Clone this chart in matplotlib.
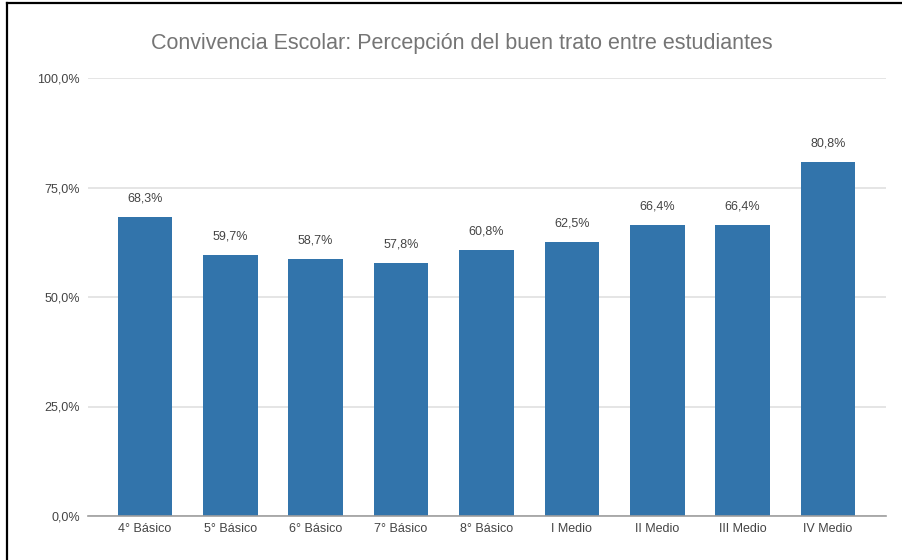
import matplotlib
matplotlib.use('Agg')
from matplotlib import pyplot as plt
from matplotlib.ticker import FuncFormatter
import numpy as np

# Daten
cursos = ['4° Básico', '5° Básico', '6° Básico', '7° Básico', '8° Básico',
          'I Medio', 'II Medio', 'III Medio', 'IV Medio']
buen_trato = [68.3, 59.7, 58.7, 57.8, 60.8, 62.5, 66.4, 66.4, 80.8]
y_ticks = [0, 25, 50, 75, 100]

plt.rcParams['font.family'] = ['Liberation Sans', 'DejaVu Sans']

fig = plt.figure(figsize=(9.02, 5.6), dpi=100)
ax = fig.add_axes([88 / 902, 1 - 516 / 560, (886 - 88) / 902, (516 - 78) / 560])

x = np.arange(len(cursos))
bars = ax.bar(x, buen_trato, width=0.64, color='#3274ab', zorder=3)

for xi, v in zip(x, buen_trato):
    ax.annotate(f'{v:.1f}%'.replace('.', ','), (xi, v), xytext=(0, 9),
                textcoords='offset points', ha='center', va='bottom',
                fontsize=9, color='#444444')

ax.set_xlim(-0.667, 8.68)
ax.set_ylim(0, 100)
ax.set_yticks(y_ticks)
ax.yaxis.set_major_formatter(FuncFormatter(lambda v, p: f'{v:.1f}%'.replace('.', ',')))
ax.set_xticks(x)
ax.set_xticklabels(cursos)
ax.tick_params(axis='both', length=0, labelsize=9, labelcolor='#444444')
ax.tick_params(axis='y', pad=6)
ax.tick_params(axis='x', pad=5)
ax.grid(axis='y', color='#e0e0e0', linewidth=1.2, zorder=0)
for s in ['top', 'right', 'left']:
    ax.spines[s].set_visible(False)
ax.spines['bottom'].set_color('#9e9e9e')
ax.spines['bottom'].set_linewidth(1.2)
ax.spines['bottom'].set_zorder(4)

fig.text(462 / 902, 1 - 43 / 560,
         'Convivencia Escolar: Percepción del buen trato entre estudiantes',
         ha='center', va='center', fontsize=15.5, color='#757575')

# Rahmen links und oben
fig.add_artist(plt.Line2D([7.5 / 902, 7.5 / 902], [0, 1 - 2.5 / 560], color='black', linewidth=1.6))
fig.add_artist(plt.Line2D([7.5 / 902, 1], [1 - 2.5 / 560, 1 - 2.5 / 560], color='black', linewidth=1.6))

fig.savefig('out.png', dpi=100)
